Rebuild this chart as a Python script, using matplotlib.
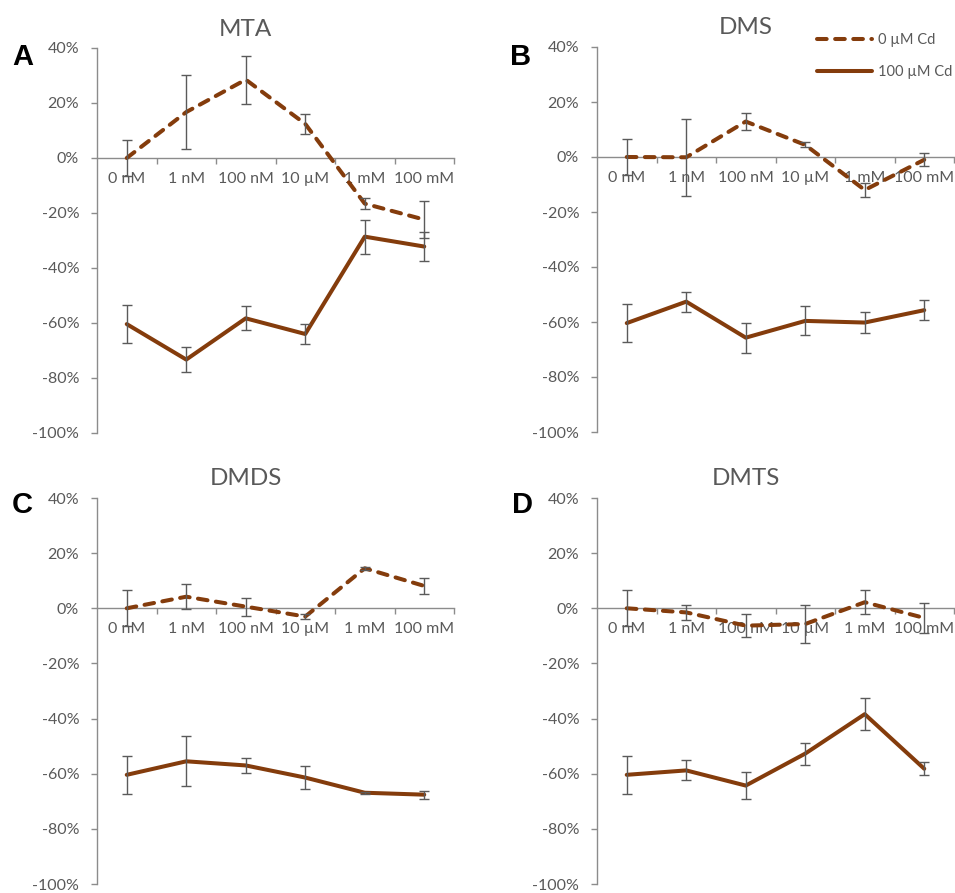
import numpy as np
import matplotlib
matplotlib.use("Agg")
import matplotlib.pyplot as plt
from matplotlib.ticker import FuncFormatter

# =========================
# DATA
# =========================
doses = ["0 nM", "1 nM", "100 nM", "10 µM", "1 mM", "100 mM"]
panels = ["A", "B", "C", "D"]
titles = ["MTA", "DMS", "DMDS", "DMTS"]

# 0 µM Cd (dashed), values in %
mta_0 = [0.0, 16.7, 28.5, 12.4, -16.6, -22.4]
mta_0_err = [6.5, 13.5, 8.7, 3.6, 2.1, 6.6]
dms_0 = [0.0, -0.1, 12.9, 4.4, -12.0, -1.0]
dms_0_err = [6.6, 13.9, 3.1, 0.9, 2.7, 2.4]
dmds_0 = [0.0, 4.2, 0.6, -3.0, 14.5, 8.1]
dmds_0_err = [6.5, 4.5, 3.3, 1.0, 0.6, 2.8]
dmts_0 = [0.0, -1.5, -6.3, -5.7, 2.2, -3.5]
dmts_0_err = [6.5, 2.7, 4.1, 6.9, 4.4, 5.4]

# 100 µM Cd (solid)
mta_100 = [-60.4, -73.3, -58.3, -64.0, -28.6, -32.2]
mta_100_err = [6.8, 4.4, 4.4, 3.6, 6.2, 5.3]
dms_100 = [-60.4, -52.6, -65.7, -59.6, -60.2, -55.7]
dms_100_err = [6.9, 3.6, 5.5, 5.3, 3.8, 3.6]
dmds_100 = [-60.4, -55.5, -57.0, -61.4, -66.9, -67.6]
dmds_100_err = [6.8, 9.0, 2.8, 4.2, 0.3, 1.5]
dmts_100 = [-60.4, -58.8, -64.3, -52.7, -38.4, -58.2]
dmts_100_err = [6.9, 3.6, 4.9, 4.0, 5.8, 2.3]

data_0 = [mta_0, dms_0, dmds_0, dmts_0]
err_0 = [mta_0_err, dms_0_err, dmds_0_err, dmts_0_err]
data_100 = [mta_100, dms_100, dmds_100, dmts_100]
err_100 = [mta_100_err, dms_100_err, dmds_100_err, dmts_100_err]

# =========================
# STYLE
# =========================
plt.rcParams["font.family"] = ["Lato", "DejaVu Sans"]
BROWN = "#843c0c"
GRAY_TXT = "#595959"
GRAY_AX = "#8c8c8c"
GRAY_ERR = "#5a5a5a"

fig = plt.figure(figsize=(9.55, 8.93), dpi=100)
W, H = 955.0, 893.0

# axes boxes in pixels: (left, top, right, bottom)
boxes = [(97, 48, 454, 433), (597, 47, 954, 432),
         (97, 498, 454, 884), (597, 498, 954, 884)]
letter_pos = [(12, 57), (510, 57), (12, 505), (512, 505)]

x = np.arange(len(doses))
fmt = FuncFormatter(lambda v, p: "%d%%" % round(v))

for i in range(4):
    l, t, r, b = boxes[i]
    ax = fig.add_axes([l / W, 1 - b / H, (r - l) / W, (b - t) / H])

    ax.plot(x, data_0[i], color=BROWN, lw=2.9, ls=(0, (2.4, 2.1)),
            dash_capstyle="round", label="0 µM Cd", zorder=3)
    ax.plot(x, data_100[i], color=BROWN, lw=2.9, solid_capstyle="round",
            label="100 µM Cd", zorder=3)
    ax.errorbar(x, data_0[i], yerr=err_0[i], fmt="none", ecolor=GRAY_ERR,
                elinewidth=1.0, capsize=3.5, capthick=1.0, zorder=4)
    ax.errorbar(x, data_100[i], yerr=err_100[i], fmt="none", ecolor=GRAY_ERR,
                elinewidth=1.0, capsize=3.5, capthick=1.0, zorder=4)

    ax.set_xlim(-0.5, 5.5)
    ax.set_ylim(-100, 40)
    ax.set_yticks(np.arange(-100, 41, 20))
    ax.yaxis.set_major_formatter(fmt)

    ax.spines["top"].set_visible(False)
    ax.spines["right"].set_visible(False)
    ax.spines["bottom"].set_position(("data", 0))
    ax.spines["left"].set_color(GRAY_AX)
    ax.spines["bottom"].set_color(GRAY_AX)
    ax.spines["left"].set_linewidth(1.0)
    ax.spines["bottom"].set_linewidth(1.0)

    ax.set_xticks(x)
    ax.set_xticklabels(doses)
    ax.set_xticks(np.arange(0.5, 6, 1), minor=True)
    ax.tick_params(axis="x", which="major", length=0, pad=10,
                   labelsize=11.5, labelcolor=GRAY_TXT)
    ax.tick_params(axis="x", which="minor", length=4.5, width=1.0,
                   color=GRAY_AX, direction="out")
    ax.tick_params(axis="y", length=4.3, width=1.0, color=GRAY_AX,
                   labelsize=11.5, labelcolor=GRAY_TXT, pad=8.5)
    ax.set_facecolor("none")

    cx = (l + r) / 2.0
    fig.text((cx - 30) / W, 1 - (t - 19) / H, titles[i], ha="center",
             va="center", fontsize=17.5, color=GRAY_TXT)
    fig.text(letter_pos[i][0] / W, 1 - letter_pos[i][1] / H, panels[i],
             ha="left", va="center", fontsize=21, fontweight="bold",
             family="Liberation Sans", color="black")

    if i == 1:
        leg_ax = ax

h, lab = leg_ax.get_legend_handles_labels()
fig.legend(h, lab, loc="center left", bbox_to_anchor=(817 / W, 1 - 56 / H),
           frameon=False, fontsize=10.5, handlelength=3.8, handletextpad=0.35,
           labelspacing=1.2, borderpad=0, borderaxespad=0,
           labelcolor=GRAY_TXT)

fig.savefig("out.png", dpi=100)
